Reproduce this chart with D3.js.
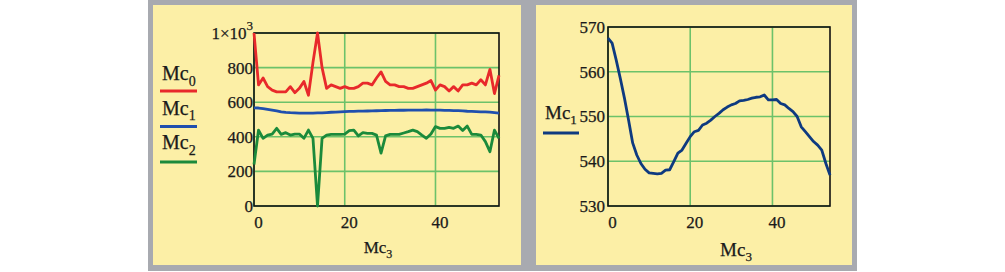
<!DOCTYPE html>
<html>
<head>
<meta charset="utf-8">
<script src="https://cdn.jsdelivr.net/npm/d3@7"></script>
<style>
  html, body { margin: 0; padding: 0; background: #ffffff; }
  svg text { font-family: "Liberation Serif", "Times New Roman", serif; fill: #1a1a1a; stroke: #1a1a1a; stroke-width: 0.25px; }
</style>
</head>
<body>
<svg class="canvas" width="1005" height="272"></svg>
<script>
// x values (Mc3) shared by both plots
var Mc3 = [0, 1, 2, 3, 4, 5, 6, 7, 8, 9, 10, 11, 12, 13, 14, 15, 16, 17, 18, 19,
           20, 21, 22, 23, 24, 25, 26, 27, 28, 29, 30, 31, 32, 33, 34, 35, 36, 37, 38, 39,
           40, 41, 42, 43, 44, 45, 46, 47, 48, 49, 50, 51, 52, 53, 54];

var Mc0 = [1000, 700, 740, 690, 670, 660, 660, 660, 690, 655, 680, 720, 640, 830, 1000, 800, 680, 700, 690, 680,
           690, 680, 680, 690, 710, 710, 700, 740, 775, 720, 700, 700, 690, 690, 680, 680, 690, 700, 710, 725,
           670, 700, 690, 665, 690, 665, 700, 700, 710, 700, 730, 700, 790, 650, 755];

var Mc1 = [567.5, 566.4, 562.6, 558.5, 554.1, 549.2, 544.1, 541.4, 539.5, 538.2, 537.4, 537.3, 537.2, 537.3, 538.0,
           538.1, 539.9, 541.8, 542.5, 544.0, 545.5, 546.6, 546.9, 548.1, 548.5, 549.2, 550.0, 550.7, 551.5, 552.1,
           552.6, 552.9, 553.5, 553.6, 553.8, 554.1, 554.3, 554.4, 554.8, 553.7, 553.7, 553.8, 552.9, 552.6, 551.8,
           551.1, 550.0, 547.7, 546.6, 545.5, 544.4, 543.6, 542.5, 539.5, 536.9];

var Mc2 = [240, 439, 391, 410, 416, 449, 414, 424, 410, 416, 416, 391, 439, 391, 0, 391, 410, 414, 414, 414,
           416, 436, 439, 405, 424, 420, 420, 410, 306, 405, 414, 414, 414, 422, 430, 439, 430, 410, 391, 416,
           459, 449, 449, 455, 449, 462, 436, 462, 414, 414, 410, 372, 314, 439, 391];

var xTicks = [0, 20, 40];
var leftYTicks = [0, 200, 400, 600, 800, 1000];
var rightYTicks = [530, 540, 550, 560, 570];

var leftSeries = [
  { name: "0", values: Mc0, color: "#e8292b" },
  { name: "1", values: Mc1, color: "#1f4fae" },
  { name: "2", values: Mc2, color: "#1b8a3b" }
];

var gridColor = "#6cc26a";

var svg = d3.select(".canvas");

// backgrounds
svg.append("rect").attr("x", 148).attr("y", 0).attr("width", 709).attr("height", 271).style("fill", "#a8aab0");
svg.append("rect").attr("x", 153).attr("y", 5).attr("width", 368).attr("height", 260).style("fill", "#fcefa6");
svg.append("rect").attr("x", 536).attr("y", 5).attr("width", 316).attr("height", 260).style("fill", "#fcefa6");

function mcLabel(g, x, y, sub, size, subSize, anchor) {
  var t = g.append("text")
      .attr("x", x)
      .attr("y", y)
      .attr("text-anchor", anchor || "start")
      .style("font-size", size + "px");
  t.append("tspan").text("Mc");
  t.append("tspan").attr("dy", size * 0.28).style("font-size", subSize + "px").text(sub);
  return t;
}

function drawPlot(opt) {
  var g = svg.append("g");
  var x = d3.scaleLinear().domain([0, 54]).range([opt.left, opt.right]);
  var y = d3.scaleLinear().domain(opt.yDomain).range([opt.bottom, opt.top]);

  // grid lines
  g.append("g")
      .selectAll("line.vg")
      .data(xTicks)
      .enter()
      .append("line")
        .attr("x1", function(d) { return x(d); })
        .attr("x2", function(d) { return x(d); })
        .attr("y1", opt.top)
        .attr("y2", opt.bottom)
        .style("stroke", gridColor)
        .style("stroke-width", 1.6);

  g.append("g")
      .selectAll("line.hg")
      .data(opt.yTicks)
      .enter()
      .append("line")
        .attr("x1", opt.left)
        .attr("x2", opt.right)
        .attr("y1", function(d) { return y(d); })
        .attr("y2", function(d) { return y(d); })
        .style("stroke", gridColor)
        .style("stroke-width", 1.6);

  // frame
  g.append("rect")
      .attr("x", opt.left)
      .attr("y", opt.top)
      .attr("width", opt.right - opt.left)
      .attr("height", opt.bottom - opt.top)
      .style("fill", "none")
      .style("stroke", "#111")
      .style("stroke-width", 1.6);

  // lines
  var line = d3.line()
      .x(function(d, i) { return x(Mc3[i]); })
      .y(function(d) { return y(d); });

  opt.series.forEach(function(s) {
    g.append("path")
        .datum(s.values)
        .attr("d", line)
        .style("fill", "none")
        .style("stroke", s.color)
        .style("stroke-width", 2.8)
        .style("stroke-linejoin", "round");
  });

  // x axis labels
  var xAxis = g.append("g")
      .attr("transform", "translate(0," + opt.bottom + ")")
      .call(d3.axisBottom(x).tickValues(xTicks).tickSize(0).tickPadding(10).tickFormat(d3.format("d")));
  xAxis.select(".domain").remove();
  xAxis.selectAll("text")
      .attr("x", opt.xShift)
      .style("font-size", "17px")
      .style("font-family", "Liberation Serif")
      .style("fill", "#1a1a1a");

  // y axis labels
  var yAxis = g.append("g")
      .attr("transform", "translate(" + opt.left + ",0)")
      .call(d3.axisLeft(y).tickValues(opt.yTicks).tickSize(0).tickPadding(opt.yPad).tickFormat(opt.yFormat));
  yAxis.select(".domain").remove();
  yAxis.selectAll("text")
      .style("font-size", "17px")
      .style("font-family", "Liberation Serif")
      .style("fill", "#1a1a1a");

  return { g: g, yAxis: yAxis };
}

// left plot
var leftPlot = drawPlot({
  left: 254, right: 499, top: 33, bottom: 206,
  yDomain: [0, 1000], yTicks: leftYTicks, yPad: 1, xShift: 4,
  yFormat: function(d) { return d === 1000 ? "" : d3.format("d")(d); },
  series: leftSeries
});

// 1x10^3 label at the top tick
var topLabel = leftPlot.g.append("text")
    .attr("x", 253)
    .attr("y", 39)
    .attr("text-anchor", "end")
    .style("font-size", "17px");
topLabel.append("tspan").text("1\u00d710");
topLabel.append("tspan").attr("dy", -9).style("font-size", "13px").text("3");

// left legend
leftSeries.forEach(function(s, i) {
  mcLabel(svg, 162, 80 + i * 34.5, s.name, 20, 14);
  svg.append("line")
      .attr("x1", 160).attr("x2", 197)
      .attr("y1", 91 + i * 35.5).attr("y2", 91 + i * 35.5)
      .style("stroke", s.color)
      .style("stroke-width", 3);
});

mcLabel(svg, 378, 253, "3", 17, 12, "middle");

// right plot
drawPlot({
  left: 608, right: 830, top: 27, bottom: 206,
  yDomain: [530, 570], yTicks: rightYTicks, yPad: 3, xShift: 4,
  yFormat: d3.format("d"),
  series: [{ name: "1", values: Mc1, color: "#0e3a80" }]
});

mcLabel(svg, 545, 119, "1", 19, 13);
svg.append("line")
    .attr("x1", 543).attr("x2", 579)
    .attr("y1", 133).attr("y2", 133)
    .style("stroke", "#0e3a80")
    .style("stroke-width", 3);

mcLabel(svg, 736, 256, "3", 19, 13, "middle");
</script>
</body>
</html>
